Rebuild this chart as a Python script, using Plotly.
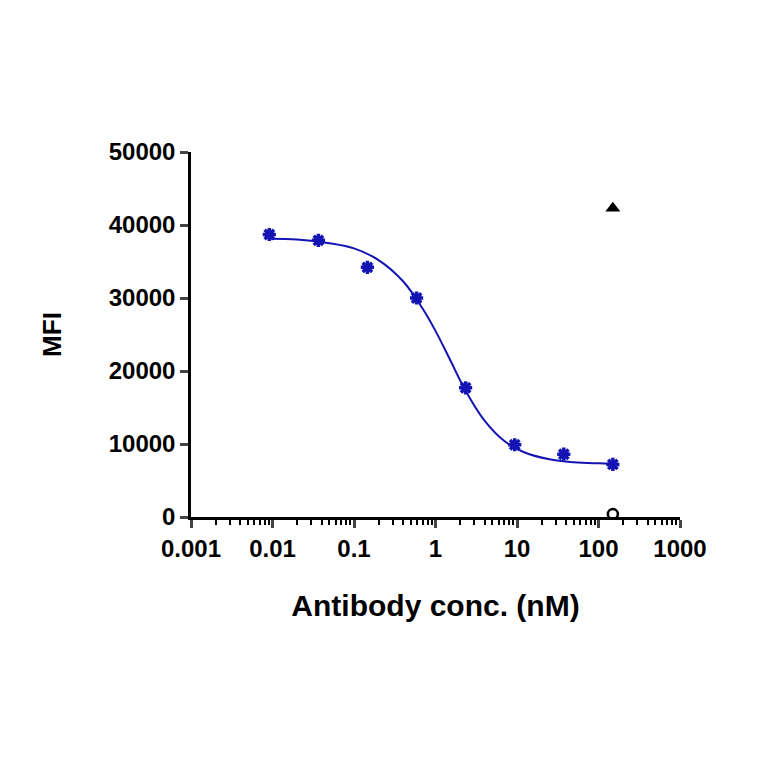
import plotly.graph_objects as go

conc = [0.00914, 0.0366, 0.146, 0.586, 2.34, 9.375, 37.5, 150]
mfi = [38700, 37900, 34200, 30000, 17700, 9900, 8600, 7200]

fit_x = [0.00914, 0.02, 0.05, 0.1, 0.2, 0.4, 0.7, 1.0, 1.5, 2.34, 4, 7, 12, 25, 50, 100, 150]
fit_y = [38100, 38000, 37500, 36800, 35200, 32300, 28500, 25500, 21600, 17300, 13200, 10400, 8900, 7900, 7500, 7350, 7300]

ctrl_hi_x = [150]
ctrl_hi_y = [42300]
ctrl_lo_x = [150]
ctrl_lo_y = [400]

tick_x = [0.001, 0.01, 0.1, 1, 10, 100, 1000]
tick_x_text = ["0.001", "0.01", "0.1", "1", "10", "100", "1000"]
tick_y = [0, 10000, 20000, 30000, 40000, 50000]
tick_y_text = ["0", "10000", "20000", "30000", "40000", "50000"]

blue = "#1414b4"
fig = go.Figure()
fig.add_trace(go.Scatter(x=fit_x, y=fit_y, mode="lines", line=dict(color=blue, width=2, shape="spline"), hoverinfo="skip"))
fig.add_trace(go.Scatter(x=conc, y=mfi, mode="markers", marker=dict(symbol="asterisk", size=11, color=blue, line=dict(color=blue, width=3.5))))
fig.add_trace(go.Scatter(x=ctrl_hi_x, y=ctrl_hi_y, mode="markers", marker=dict(symbol="triangle-up", size=13, color="black")))
fig.add_trace(go.Scatter(x=ctrl_lo_x, y=ctrl_lo_y, mode="markers", marker=dict(symbol="circle-open", size=10, color="black", line=dict(width=2.5))))

tickfont = dict(family="Liberation Sans", size=24, color="black", weight="bold")
fig.update_layout(
    width=764, height=764, showlegend=False,
    plot_bgcolor="white", paper_bgcolor="white",
    margin=dict(l=183, r=92, t=144, b=255),
    font=dict(family="Liberation Sans", color="black"),
)
fig.update_xaxes(
    type="log", range=[-3, 3], tickvals=tick_x, ticktext=tick_x_text,
    showline=True, linecolor="black", linewidth=2.5, ticks="outside", ticklen=8, tickwidth=2.5,
    tickfont=tickfont,
    minor=dict(ticks="outside", ticklen=5, tickwidth=1.5, tickcolor="black", dtick="D1", showgrid=False),
    showgrid=False, zeroline=False,
    title=dict(text="<b>Antibody conc. (nM)</b>", font=dict(size=30), standoff=35),
)
fig.update_yaxes(
    range=[0, 50000], tickvals=tick_y, ticktext=tick_y_text,
    showline=True, linecolor="black", linewidth=2.5, ticks="outside", ticklen=8, tickwidth=2.5,
    tickfont=tickfont,
    showgrid=False, zeroline=False,
    title=dict(text="<b>MFI</b>", font=dict(size=26), standoff=40),
)
fig.write_html("out.html")
